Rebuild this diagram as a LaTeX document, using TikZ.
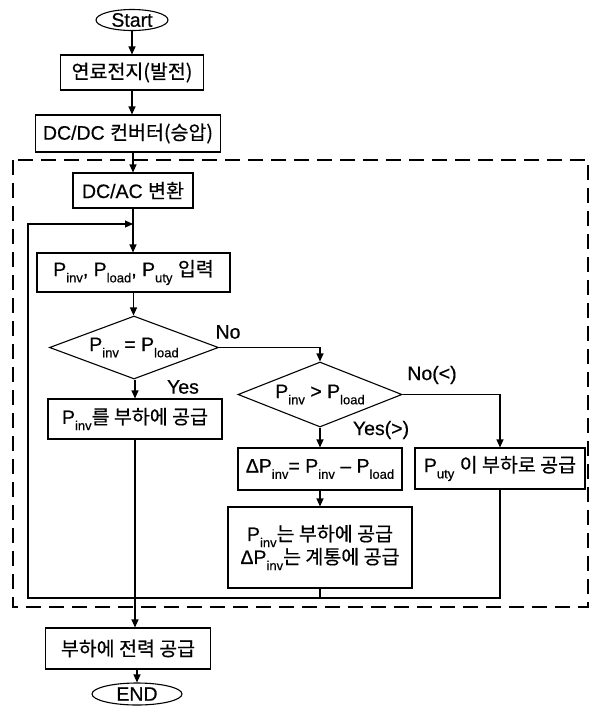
\documentclass[tikz,border=0pt]{standalone}
\usepackage{fontspec}
\setmainfont{Liberation Sans}[FakeBold=0.5]
\newfontfamily\kr{Noto Sans CJK KR}[FakeBold=0.5]
\usetikzlibrary{shapes.geometric,arrows.meta}
\newcommand\sub[1]{\raisebox{-0.32em}{\fontsize{13}{13}\selectfont #1}}
\begin{document}
\begin{tikzpicture}[x=1pt,y=-1pt,line width=1.1pt,
  font=\fontsize{19.5}{23}\selectfont,
  box/.style={draw, rectangle, inner sep=0pt, align=center},
  dia/.style={draw, diamond, inner sep=0pt, aspect=2.6},
  term/.style={draw, ellipse, inner sep=0pt},
  arr/.style={-{Triangle[length=8pt,width=7pt]}},
  lbl/.style={inner sep=0pt},
  frame/.style={dash pattern=on 15pt off 8pt, line width=1.4pt}]
\useasboundingbox (0,0) rectangle (593,716);
\draw[frame] (13,160) rectangle (588,607);

\node[term, minimum width=72pt, minimum height=21pt] (start) at (132,20) {Start};
\node[box, minimum width=143pt, minimum height=35pt] (fc) at (132,72.5) {\kr 연료전지(발전)};
\node[box, minimum width=185pt, minimum height=37pt] (dcdc) at (128,133.5) {DC/DC {\kr 컨버터(승압)}};
\node[box, minimum width=120pt, minimum height=35pt] (dcac) at (133,190.5) {DC/AC {\kr 변환}};
\node[box, minimum width=193pt, minimum height=39pt] (inp) at (133.5,272.5) {P\sub{inv}, P\sub{load}, P\sub{uty} {\kr 입력}};
\node[dia, minimum width=169pt, minimum height=63pt] (d1) at (134,347.5) {P\sub{inv} = P\sub{load}};
\node[box, minimum width=174pt, minimum height=40pt] (b1) at (135,419) {P\sub{inv}{\kr 를 부하에 공급}};
\node[dia, minimum width=164pt, minimum height=65pt] (d2) at (320,394.5) {P\sub{inv} > P\sub{load}};
\node[box, minimum width=164pt, minimum height=42pt] (b2) at (320,469) {ΔP\sub{inv}= P\sub{inv} – P\sub{load}};
\node[box, minimum width=170pt, minimum height=41pt] (b3) at (500,468.5) {P\sub{uty} {\kr 이 부하로 공급}};
\node[box, minimum width=184pt, minimum height=81pt] (b4) at (320,547.5) {P\sub{inv}{\kr 는 부하에 공급}\\ΔP\sub{inv}{\kr 는 계통에 공급}};
\node[box, minimum width=165pt, minimum height=41pt] (fin) at (128,648.5) {\kr 부하에 전력 공급};
\node[term, minimum width=90pt, minimum height=22pt] (end) at (137,694) {END};

\node[lbl] (no1) at (228,332) {No};
\node[lbl] (yes1) at (183,387) {Yes};
\node[lbl] (no2) at (432,375) {No(<)};
\node[lbl] (yes2) at (381,430) {Yes(>)};

\coordinate (J) at (135,598);
\coordinate (LB) at (28,598);
\coordinate (LT) at (28,224);
\coordinate (MT) at (133,224);

\draw[arr] (start.south) -- (start.south |- fc.north);
\draw[arr] (fc.south) -- (fc.south |- dcdc.north);
\draw[arr] (dcac.north |- dcdc.south) -- (dcac.north);
\draw[arr] (dcac.south) -- (dcac.south |- inp.north);
\draw[arr] (inp.south) -- (inp.south |- d1.north);
\draw[arr] (d1.south -| b1.north) -- (b1.north);
\draw[arr] (d1.east) -- (d1.east -| d2.north) -- (d2.north);
\draw[arr] (d2.south) -- (d2.south |- b2.north);
\draw[arr] (d2.east) -- (d2.east -| b3.north) -- (b3.north);
\draw[arr] (b2.south) -- (b2.south |- b4.north);
\draw (b1.south) -- (J);
\draw (b4.south) -- (b4.south |- J);
\draw[arr] (b3.south) -- (b3.south |- J) -- (LB) -- (LT) -- (MT);
\draw[arr] (J) -- (J |- fin.north);
\draw[arr] (fin.south -| end.north) -- (end.north);
\fill (J) circle (1.8pt);
\end{tikzpicture}
\end{document}
